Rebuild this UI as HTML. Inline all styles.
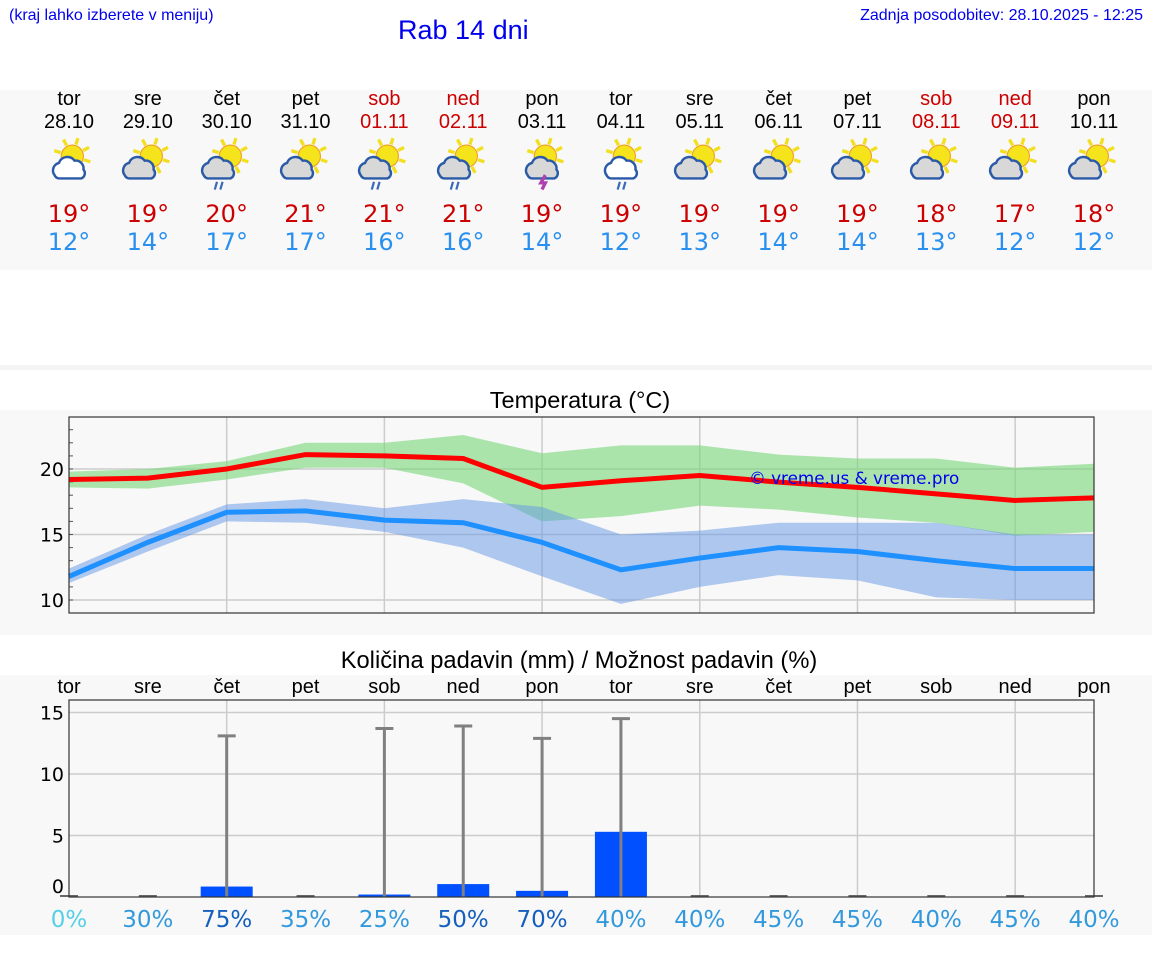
<!DOCTYPE html>
<html><head><meta charset="utf-8"><style>
body{margin:0;width:1152px;height:975px;background:#fff;font-family:"Liberation Sans","DejaVu Sans",sans-serif;position:relative;overflow:hidden}
.abs{position:absolute}
.dj{font-family:"DejaVu Sans","Liberation Sans",sans-serif}
.lb{font-family:"Liberation Sans","DejaVu Sans",sans-serif}
</style></head><body>
<div class="abs" style="left:9px;top:7px;font-size:16px;color:#0000ee">(kraj lahko izberete v meniju)</div>
<div class="abs" style="left:398px;top:15px;font-size:27px;color:#0000ee">Rab 14 dni</div>
<div class="abs" style="right:9px;top:7px;font-size:16px;color:#0000ee">Zadnja posodobitev: 28.10.2025 - 12:25</div>
<div class="abs" style="left:0;top:90px;width:1152px;height:180px;background:#f8f8f8"></div>
<div class="abs" style="left:0;top:365px;width:1152px;height:5px;background:#f4f4f4"></div>
<div class="abs" style="left:0;top:410px;width:1152px;height:225px;background:#f8f8f8"></div>
<div class="abs" style="left:0;top:675px;width:1152px;height:260px;background:#f8f8f8"></div>
<div id="days"></div>
<svg class="abs" style="left:0;top:0" width="1152" height="975" id="svg">
<text x="580" y="408" font-size="23.5" text-anchor="middle" fill="#000">Temperatura (°C)</text>
<text x="579" y="668" font-size="23.7" text-anchor="middle" fill="#000">Količina padavin (mm) / Možnost padavin (%)</text>
<g id="tg"></g><g id="pg"></g>
</svg>
<script>
const dayNames=["tor","sre","čet","pet","sob","ned","pon","tor","sre","čet","pet","sob","ned","pon"];
const dates=["28.10","29.10","30.10","31.10","01.11","02.11","03.11","04.11","05.11","06.11","07.11","08.11","09.11","10.11"];
const weekend=[false,false,false,false,true,true,false,false,false,false,false,true,true,false];
const hiTemps=[19,19,20,21,21,21,19,19,19,19,19,18,17,18];
const loTemps=[12,14,17,17,16,16,14,12,13,14,14,13,12,12];
const iconRain=[false,false,true,false,true,true,false,true,false,false,false,false,false,false];
const iconStorm=[false,false,false,false,false,false,true,false,false,false,false,false,false,false];
const maxT=[19.2,19.3,20.0,21.1,21.0,20.8,18.6,19.1,19.5,19.0,18.6,18.1,17.6,17.8];
const maxHi=[19.8,20.0,20.6,22.0,22.0,22.6,21.2,21.8,21.8,21.1,20.8,20.8,20.1,20.4];
const maxLo=[18.6,18.5,19.2,20.1,20.1,18.9,16.0,16.4,17.2,16.9,16.3,15.9,14.9,15.2];
const minT=[11.8,14.4,16.7,16.8,16.1,15.9,14.4,12.3,13.2,14.0,13.7,13.0,12.4,12.4];
const minHi=[12.4,15.0,17.3,17.7,17.0,17.7,17.1,15.0,15.3,15.9,15.9,15.9,15.0,15.0];
const minLo=[11.3,13.7,16.0,15.9,15.2,14.0,11.8,9.7,11.0,11.9,11.5,10.2,10.0,10.0];
const precip=[0,0,0.85,0,0.2,1.05,0.5,5.3,0,0,0,0,0,0];
const precipMax=[0,0,13.1,0,13.7,13.9,12.9,14.5,0,0,0,0,0,0];
const chance=[0,30,75,35,25,50,70,40,40,45,45,40,45,40];
const tempTicks=[10,15,20];
const precipTicks=[0,5,10,15];

const NS="http://www.w3.org/2000/svg";
const DJ='"DejaVu Sans","Liberation Sans",sans-serif';
const LB='"Liberation Sans","DejaVu Sans",sans-serif';
const X0=69,X1=1094;
function xi(i){return X0+i*(X1-X0)/13;}
function ty(t){return 469+(20-t)*13.1;}
function py(v){return 897-v*12.3;}
function mk(tag,attrs,parent){const e=document.createElementNS(NS,tag);for(const k in attrs)e.setAttribute(k,attrs[k]);parent.appendChild(e);return e;}

const days=document.getElementById('days');
function iconSVG(i){
 let s='<svg width="60" height="56" viewBox="0 0 54 48">';
 let cx=30,cy=17;
 for(let a=0;a<8;a++){const r=a*Math.PI/4+0.3;s+=`<line x1="${cx+Math.cos(r)*11}" y1="${cy+Math.sin(r)*11}" x2="${cx+Math.cos(r)*17}" y2="${cy+Math.sin(r)*17}" stroke="#f2e020" stroke-width="3"/>`;}
 s+=`<circle cx="${cx}" cy="${cy}" r="10" fill="#f5e31c" stroke="#f0a020" stroke-width="1"/>`;
 const fill=(i===0||i===7)?'#fff':'#d8d8d8';
 const cxo=(i===0||i===6||i===7)?8:0;
 s+=`<path transform="translate(${cxo},0)" d="M6 34 a7 7 0 0 1 4 -11 a8 8 0 0 1 14 -2 a7 7 0 0 1 8 8 a5 5 0 0 1 -2 8 h-20 a5 5 0 0 1 -4 -3z" fill="${fill}" stroke="#2a5aa8" stroke-width="2.2"/>`;
 if(iconRain[i])s+=`<line x1="${18+cxo}" y1="40" x2="${16+cxo}" y2="47" stroke="#3a6ab8" stroke-width="2"/><line x1="${23+cxo}" y1="40" x2="${21+cxo}" y2="47" stroke="#3a6ab8" stroke-width="2"/>`;
 if(iconStorm[i])s+='<path d="M30 34 l-4 7 h4 l-3 6" fill="none" stroke="#b040b0" stroke-width="3"/>';
 return s+'</svg>';
}
for(let i=0;i<14;i++){
 const x=xi(i);const col=weekend[i]?'#cc0000':'#000';
 const d=document.createElement('div');d.className='abs dj';d.style.cssText=`left:${x-40}px;top:88px;width:80px;text-align:center`;
 
 
 d.innerHTML=`<div class="lb" style="font-size:20px;color:${col};line-height:23px">${dayNames[i]}</div><div class="lb" style="font-size:20px;color:${col};line-height:23px">${dates[i]}</div><div style="height:58px;margin-top:2px;display:flex;justify-content:center">${iconSVG(i)}</div><div style="font-size:24px;color:#cc0000;line-height:28px;margin-top:6px">${hiTemps[i]}°</div><div style="font-size:24px;color:#2a90f0;line-height:28px">${loTemps[i]}°</div>`;
 days.appendChild(d);
}

const tg=document.getElementById('tg');
for(let i=2;i<14;i+=2){const l=mk('line',{x1:xi(i),x2:xi(i),y1:417,y2:613,stroke:'#ccc','stroke-width':1.5},tg);}
tempTicks.forEach(t=>{const l=mk('line',{x1:X0,x2:X1,y1:ty(t),y2:ty(t),stroke:'#ccc','stroke-width':1.5},tg);
 const tx=mk('text',{x:64,y:ty(t)+7,'font-size':19,'font-family':DJ,'text-anchor':'end',fill:'#000'},tg);tx.textContent=t;});
for(let t=10;t<=23;t++){mk('line',{x1:X0,x2:X0+4,y1:ty(t),y2:ty(t),stroke:'#555'},tg);}
function band(hi,lo,color,name){let d='';hi.forEach((v,i)=>d+=(i?'L':'M')+xi(i)+' '+ty(v));for(let i=lo.length-1;i>=0;i--)d+='L'+xi(i)+' '+ty(lo[i]);const p=mk('path',{d:d+'Z',fill:color},tg);}
function line(arr,color,name){const p=mk('polyline',{points:arr.map((v,i)=>xi(i)+','+ty(v)).join(' '),fill:'none',stroke:color,'stroke-width':5},tg);}
band(maxHi,maxLo,'rgba(120,215,120,0.6)','max-temp-range');
band(minHi,minLo,'rgba(100,150,230,0.5)','min-temp-range');
line(maxT,'#ff0000','max-temp-line');
line(minT,'#1e90ff','min-temp-line');
const wm=mk('text',{x:749,y:484,'font-size':16.8,'font-family':DJ,fill:'#0000ee'},tg);wm.textContent='© vreme.us & vreme.pro';
const tf=mk('rect',{x:X0,y:417,width:X1-X0,height:196,fill:'none',stroke:'#333','stroke-width':1.2},tg);

const pg=document.getElementById('pg');
for(let i=2;i<14;i+=2){const l=mk('line',{x1:xi(i),x2:xi(i),y1:700,y2:897,stroke:'#ccc','stroke-width':1.5},pg);}
precipTicks.forEach(t=>{if(t>0){const l=mk('line',{x1:X0,x2:X1,y1:py(t),y2:py(t),stroke:'#ccc','stroke-width':1.5},pg);}
 const tx=mk('text',{x:64,y:(t===0?py(t)-4:py(t)+7),'font-size':19,'font-family':DJ,'text-anchor':'end',fill:'#000'},pg);tx.textContent=t;});
for(let i=0;i<14;i++){
 const x=xi(i);
 const dn=mk('text',{x:x,y:693,'font-size':20,'font-family':LB,'text-anchor':'middle',fill:'#000'},pg);dn.textContent=dayNames[i];
 if(precip[i]>0){const b=mk('rect',{x:x-26,y:py(precip[i]),width:52,height:897-py(precip[i]),fill:'#0050ff'},pg);}
 if(precipMax[i]>0){const e=mk('path',{d:`M${x} 897 V${py(precipMax[i])} M${x-9} ${py(precipMax[i])} H${x+9}`,stroke:'#808080','stroke-width':3,fill:'none'},pg);}
 else mk('line',{x1:x-9,x2:x+9,y1:896,y2:896,stroke:'#666','stroke-width':2},pg);
 const c=chance[i];const col=c===0?'#55d0e6':(c>=50?'#1560bd':'#3399dd');
 const pt=mk('text',{x:x,y:927,'font-size':23,'font-family':DJ,'text-anchor':'middle',fill:col},pg);pt.textContent=c+'%';
}
const pf=mk('rect',{x:X0,y:700,width:X1-X0,height:197,fill:'none',stroke:'#333','stroke-width':1.2},pg);
</script>
</body></html>
